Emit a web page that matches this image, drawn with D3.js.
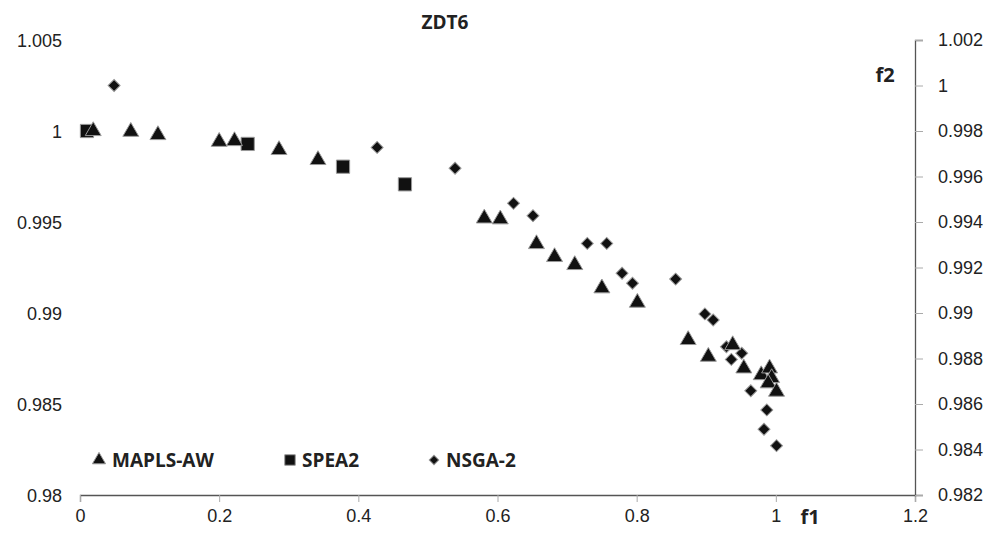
<!DOCTYPE html>
<html>
<head>
<meta charset="utf-8">
<script src="https://cdn.jsdelivr.net/npm/d3@7"></script>
<style>
  body { margin: 0; background: #fff; }
  svg { font-family: 'Open Sans', sans-serif; }
  .axis text { font-size: 18px; fill: #222; }
  .bold { font-weight: bold; fill: #222; }
</style>
</head>
<body>
<svg class="chart" width="991" height="534"></svg>
<script>
// MAPLS-AW (left axis)
const mapleF1 = [0.019, 0.073, 0.112, 0.200, 0.222, 0.286, 0.342, 0.581, 0.604, 0.656, 0.682, 0.711,
  0.750, 0.801, 0.874, 0.903, 0.938, 0.954, 0.979, 0.991, 0.994, 0.989, 1.001];
const mapleF2 = [1.0000, 0.99996, 0.99978, 0.99941, 0.99945, 0.99896, 0.99841, 0.99520, 0.99515, 0.99379, 0.99308, 0.99264,
  0.99136, 0.99057, 0.98852, 0.98760, 0.98824, 0.98696, 0.98659, 0.98696, 0.98643, 0.98614, 0.98568];

// SPEA2 (left axis)
const speaF1 = [0.010, 0.241, 0.378, 0.467];
const speaF2 = [1.0000, 0.99929, 0.99804, 0.99707];

// NSGA-2 (right axis)
const nsgaF1 = [0.049, 0.427, 0.539, 0.623, 0.651, 0.729, 0.757, 0.779, 0.794, 0.856, 0.898, 0.910,
  0.929, 0.936, 0.951, 0.964, 0.987, 0.983, 1.001];
const nsgaF2 = [1.0000, 0.99728, 0.99636, 0.99482, 0.99428, 0.99306, 0.99306, 0.99175, 0.99131, 0.99149, 0.98996, 0.98969,
  0.98852, 0.98796, 0.98823, 0.98658, 0.98574, 0.98489, 0.98417];

const xTicks = [0, 0.2, 0.4, 0.6, 0.8, 1, 1.2];
const leftTicks = [0.98, 0.985, 0.99, 0.995, 1, 1.005];
const rightTicks = [0.982, 0.984, 0.986, 0.988, 0.99, 0.992, 0.994, 0.996, 0.998, 1, 1.002];
const seriesNames = ['MAPLS-AW', 'SPEA2', 'NSGA-2'];

const x = d3.scaleLinear().domain([0, 1.2]).range([80, 915]);
const yLeft = d3.scaleLinear().domain([0.98, 1.005]).range([495, 40]);
const yRight = d3.scaleLinear().domain([0.982, 1.002]).range([495, 40]);
const fmt = d => String(+d.toFixed(3));

const symbols = {
  'MAPLS-AW': d3.symbol().type(d3.symbolTriangle).size(110)(),
  'SPEA2': d3.symbol().type(d3.symbolSquare).size(175)(),
  'NSGA-2': d3.symbol().type(d3.symbolSquare).size(72)()
};
const legendSymbols = {
  'MAPLS-AW': d3.symbol().type(d3.symbolTriangle).size(75)(),
  'SPEA2': d3.symbol().type(d3.symbolSquare).size(110)(),
  'NSGA-2': d3.symbol().type(d3.symbolSquare).size(45)()
};
const rot = name => (name === 'NSGA-2' ? ' rotate(45)' : '');

function drawAxes(svg) {
  const bottom = svg.append('g')
    .attr('class', 'axis')
    .attr('transform', 'translate(0, 495)')
    .call(d3.axisBottom(x).tickValues(xTicks).tickSize(7).tickPadding(7).tickFormat(fmt));
  bottom.select('.domain').attr('stroke', '#555').attr('stroke-width', 1.3);
  bottom.selectAll('.tick line').attr('stroke', '#aaa');

  const left = svg.append('g')
    .attr('class', 'axis')
    .attr('transform', 'translate(70, 0)')
    .call(d3.axisLeft(yLeft).tickValues(leftTicks).tickSize(0).tickPadding(8).tickFormat(fmt));
  left.select('.domain').remove();
  left.selectAll('text').attr('dy', '0.35em');

  const right = svg.append('g')
    .attr('class', 'axis')
    .attr('transform', 'translate(915, 0)')
    .call(d3.axisRight(yRight).tickValues(rightTicks).tickSize(8).tickPadding(15).tickFormat(fmt));
  right.select('.domain').attr('stroke', '#555').attr('stroke-width', 1.3);
  right.selectAll('.tick line').attr('stroke', '#aaa');

  svg.append('text').attr('class', 'bold').attr('x', 445).attr('y', 29)
    .attr('text-anchor', 'middle').attr('font-size', 19).text('ZDT6');
  svg.append('text').attr('class', 'bold').attr('x', 885).attr('y', 82)
    .attr('text-anchor', 'middle').attr('font-size', 20).text('f2');
  svg.append('text').attr('class', 'bold').attr('x', 810).attr('y', 524)
    .attr('text-anchor', 'middle').attr('font-size', 20).text('f1');
}

function drawSeries(svg, name, xs, ys, yScale) {
  const pts = xs.map((v, i) => ({ f1: v, f2: ys[i] }));
  svg.append('g')
    .selectAll('path')
    .data(pts)
    .enter()
    .append('path')
    .attr('d', symbols[name])
    .attr('transform', d => `translate(${x(d.f1)}, ${yScale(d.f2)})${rot(name)}`)
    .attr('fill', '#111')
    .attr('stroke', '#999')
    .attr('stroke-width', 1);
}

function drawLegend(svg) {
  const items = [
    { name: seriesNames[0], mx: 99, tx: 112 },
    { name: seriesNames[1], mx: 290, tx: 302 },
    { name: seriesNames[2], mx: 434, tx: 446 }
  ];
  const g = svg.append('g');
  items.forEach((it) => {
    g.append('path')
      .attr('d', legendSymbols[it.name])
      .attr('transform', `translate(${it.mx}, 460)${rot(it.name)}`)
      .attr('fill', '#111')
      .attr('stroke', '#999');
    g.append('text').attr('class', 'bold').attr('x', it.tx).attr('y', 467)
      .attr('font-size', 19).text(it.name);
  });
}

const svg = d3.select('.chart');
drawAxes(svg);
drawSeries(svg, 'NSGA-2', nsgaF1, nsgaF2, yRight);
drawSeries(svg, 'SPEA2', speaF1, speaF2, yLeft);
drawSeries(svg, 'MAPLS-AW', mapleF1, mapleF2, yLeft);
drawLegend(svg);
</script>
</body>
</html>
